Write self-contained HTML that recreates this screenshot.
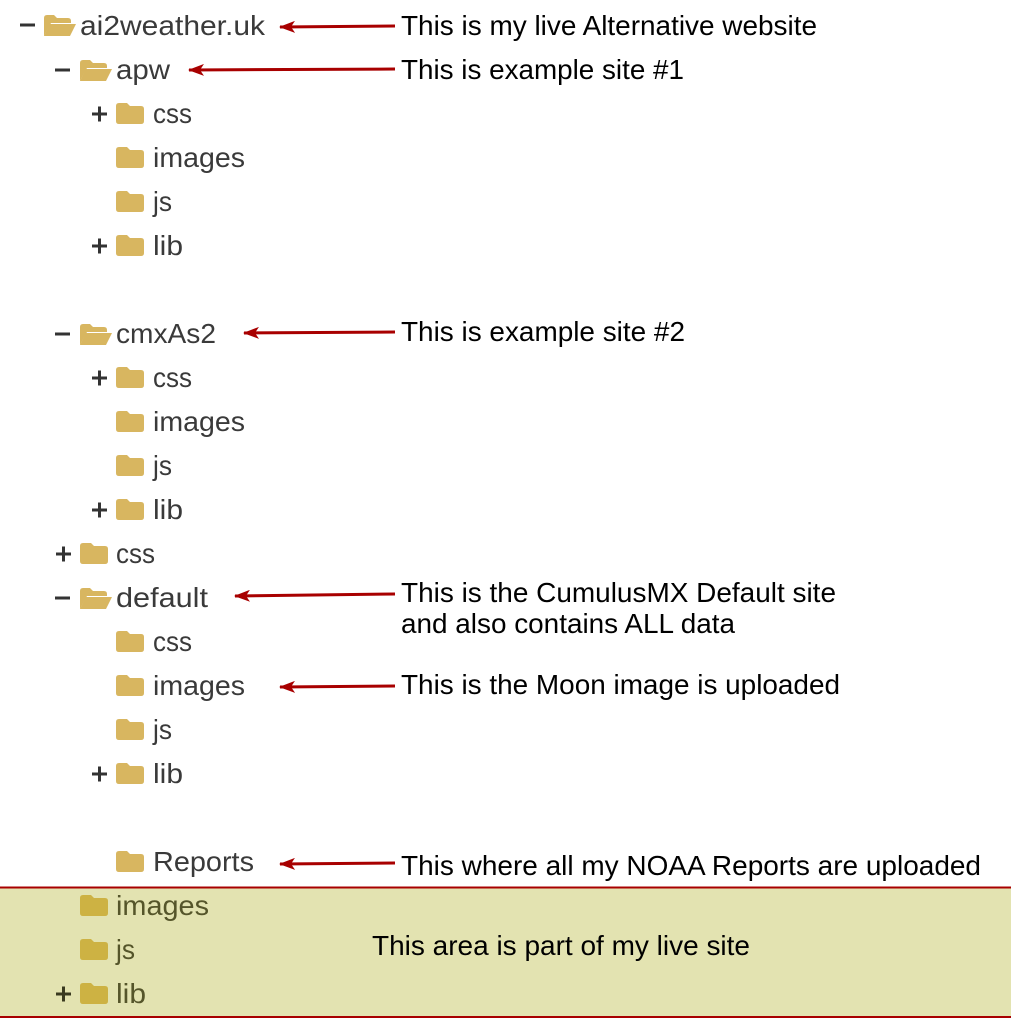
<!DOCTYPE html>
<html><head><meta charset="utf-8"><style>
html,body{margin:0;padding:0;background:#fff;}
svg{display:block}
.t{font-family:"Liberation Sans",sans-serif;font-size:28px;fill:#3a3a3a}
.tb{font-family:"Liberation Sans",sans-serif;font-size:28px;fill:#55552a}
.a{font-family:"Liberation Sans",sans-serif;font-size:28px;fill:#000}
</style></head><body>
<svg width="1011" height="1019" viewBox="0 0 1011 1019" xmlns="http://www.w3.org/2000/svg">
<defs>
<path id="cf" d="M0,3 q0,-3 3,-3 h8 l3,3 h11 q3,0 3,3 v12 q0,3 -3,3 h-22 q-3,0 -3,-3z"/>
<g id="of"><path d="M0,3 q0,-3 3,-3 h7 l3,3 h11 q3,0 3,3 v2 h-20 l-7,13 z" fill="#d8b660"/><path d="M6,9 h26 l-6,12 h-26 z" fill="#d8b660"/></g>
<path id="mn" d="M0,-1.5 h15 v3 h-15z"/>
<path id="pl" d="M0,-1.5 h15 v3 h-15z M6,-7.5 h3 v15 h-3z"/>
<marker id="ah" markerWidth="16" markerHeight="12" refX="15" refY="6" orient="auto" markerUnits="userSpaceOnUse"><path d="M0,0 L16,6 L0,12 L4,6 z" fill="#a80000"/></marker>
</defs>
<rect x="0" y="887" width="1011" height="130" fill="#e3e3b1"/>
<line x1="0" y1="887.5" x2="1011" y2="887.5" stroke="#a80000" stroke-width="2"/>
<line x1="0" y1="1017" x2="1011" y2="1017" stroke="#a80000" stroke-width="2"/>

<use href="#mn" x="20" y="25" fill="#333"/><use href="#of" x="44" y="15"/><text class="t" x="80" y="35" textLength="185" lengthAdjust="spacingAndGlyphs">ai2weather.uk</text>
<use href="#mn" x="55" y="70" fill="#333"/><use href="#of" x="80" y="60"/><text class="t" x="116" y="79" textLength="54" lengthAdjust="spacingAndGlyphs">apw</text>
<use href="#pl" x="92" y="114" fill="#333"/><use href="#cf" x="116" y="103" fill="#d8b660"/><text class="t" x="153" y="123" textLength="39" lengthAdjust="spacingAndGlyphs">css</text>
<use href="#cf" x="116" y="147" fill="#d8b660"/><text class="t" x="153" y="167" textLength="92" lengthAdjust="spacingAndGlyphs">images</text>
<use href="#cf" x="116" y="191" fill="#d8b660"/><text class="t" x="153" y="211" textLength="19" lengthAdjust="spacingAndGlyphs">js</text>
<use href="#pl" x="92" y="246" fill="#333"/><use href="#cf" x="116" y="235" fill="#d8b660"/><text class="t" x="153" y="255" textLength="30" lengthAdjust="spacingAndGlyphs">lib</text>

<use href="#mn" x="55" y="334" fill="#333"/><use href="#of" x="80" y="324"/><text class="t" x="116" y="343" textLength="100" lengthAdjust="spacingAndGlyphs">cmxAs2</text>
<use href="#pl" x="92" y="378" fill="#333"/><use href="#cf" x="116" y="367" fill="#d8b660"/><text class="t" x="153" y="387" textLength="39" lengthAdjust="spacingAndGlyphs">css</text>
<use href="#cf" x="116" y="411" fill="#d8b660"/><text class="t" x="153" y="431" textLength="92" lengthAdjust="spacingAndGlyphs">images</text>
<use href="#cf" x="116" y="455" fill="#d8b660"/><text class="t" x="153" y="475" textLength="19" lengthAdjust="spacingAndGlyphs">js</text>
<use href="#pl" x="92" y="510" fill="#333"/><use href="#cf" x="116" y="499" fill="#d8b660"/><text class="t" x="153" y="519" textLength="30" lengthAdjust="spacingAndGlyphs">lib</text>

<use href="#pl" x="56" y="554" fill="#333"/><use href="#cf" x="80" y="543" fill="#d8b660"/><text class="t" x="116" y="563" textLength="39" lengthAdjust="spacingAndGlyphs">css</text>
<use href="#mn" x="55" y="598" fill="#333"/><use href="#of" x="80" y="588"/><text class="t" x="116" y="607" textLength="92" lengthAdjust="spacingAndGlyphs">default</text>
<use href="#cf" x="116" y="631" fill="#d8b660"/><text class="t" x="153" y="651" textLength="39" lengthAdjust="spacingAndGlyphs">css</text>
<use href="#cf" x="116" y="675" fill="#d8b660"/><text class="t" x="153" y="695" textLength="92" lengthAdjust="spacingAndGlyphs">images</text>
<use href="#cf" x="116" y="719" fill="#d8b660"/><text class="t" x="153" y="739" textLength="19" lengthAdjust="spacingAndGlyphs">js</text>
<use href="#pl" x="92" y="774" fill="#333"/><use href="#cf" x="116" y="763" fill="#d8b660"/><text class="t" x="153" y="783" textLength="30" lengthAdjust="spacingAndGlyphs">lib</text>
<use href="#cf" x="116" y="851" fill="#d8b660"/><text class="t" x="153" y="871" textLength="101" lengthAdjust="spacingAndGlyphs">Reports</text>

<use href="#cf" x="80" y="895" fill="#cdb243"/><text class="tb" x="116" y="915" textLength="93" lengthAdjust="spacingAndGlyphs">images</text>
<use href="#cf" x="80" y="939" fill="#cdb243"/><text class="tb" x="116" y="959" textLength="19" lengthAdjust="spacingAndGlyphs">js</text>
<use href="#pl" x="56" y="994" fill="#3a3a20"/><use href="#cf" x="80" y="983" fill="#cdb243"/><text class="tb" x="116" y="1003" textLength="30" lengthAdjust="spacingAndGlyphs">lib</text>

<g stroke="#a80000" stroke-width="3" marker-end="url(#ah)">
<line x1="395" y1="26" x2="280" y2="27"/>
<line x1="395" y1="69" x2="189" y2="70"/>
<line x1="395" y1="332" x2="244" y2="333"/>
<line x1="395" y1="594" x2="235" y2="596"/>
<line x1="395" y1="686" x2="280" y2="687"/>
<line x1="395" y1="863" x2="280" y2="864"/>
</g>
<text class="a" x="401" y="35" textLength="416" lengthAdjust="spacingAndGlyphs">This is my live Alternative website</text>
<text class="a" x="401" y="79" textLength="283" lengthAdjust="spacingAndGlyphs">This is example site #1</text>
<text class="a" x="401" y="341" textLength="284" lengthAdjust="spacingAndGlyphs">This is example site #2</text>
<text class="a" x="401" y="602" textLength="435" lengthAdjust="spacingAndGlyphs">This is the CumulusMX Default site</text>
<text class="a" x="401" y="633" textLength="334" lengthAdjust="spacingAndGlyphs">and also contains ALL data</text>
<text class="a" x="401" y="694" textLength="439" lengthAdjust="spacingAndGlyphs">This is the Moon image is uploaded</text>
<text class="a" x="401" y="875" textLength="580" lengthAdjust="spacingAndGlyphs">This where all my NOAA Reports are uploaded</text>
<text class="a" x="372" y="955" textLength="378" lengthAdjust="spacingAndGlyphs">This area is part of my live site</text>
</svg>
</body></html>
